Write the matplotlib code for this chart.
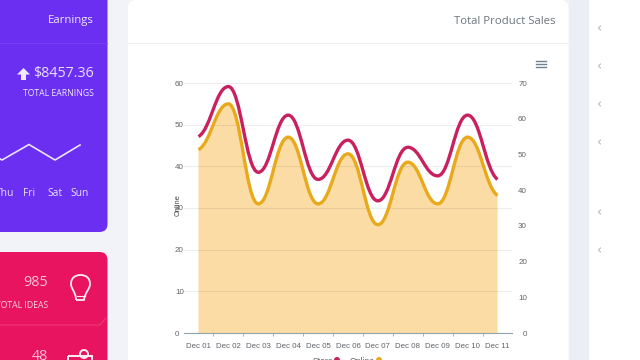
import matplotlib
matplotlib.use('Agg')
import matplotlib.pyplot as plt
from matplotlib.patches import FancyBboxPatch, PathPatch, Rectangle, Circle, Polygon
from matplotlib.path import Path

plt.rcParams['font.family'] = ['Liberation Sans', 'DejaVu Sans']

# данные графика
days = ['Dec 01', 'Dec 02', 'Dec 03', 'Dec 04', 'Dec 05', 'Dec 06',
        'Dec 07', 'Dec 08', 'Dec 09', 'Dec 10', 'Dec 11']
online = [44, 55, 31, 47, 31, 43, 26, 41, 31, 47, 33]
store = [55, 69, 45, 61, 43, 54, 37, 52, 44, 61, 43]
left_ticks = [0, 10, 20, 30, 40, 50, 60]
right_ticks = [0, 10, 20, 30, 40, 50, 60, 70]

# маленький график на фиолетовой карточке
week_days = ['Thu', 'Fri', 'Sat', 'Sun']
week_x = [-8, 2, 29, 55, 80]
week_y = [154, 160, 144.5, 160, 145]
week_label_x = [5, 29, 55, 80]

chevron_y = [28, 66, 104, 142, 212, 250]

PURPLE = '#6b2ff2'
RED = '#e8145f'
PINK = '#c9215f'
ORANGE = '#e9a91d'
FILL = '#fbdca5'
TEXT = '#5f6368'


def smooth_path(values, base=None):
    # кривая безье через значения, на экстремумах касательная горизонтальна
    n = len(values)
    slope = []
    for i in range(n):
        if i == 0:
            slope.append((values[1] - values[0]) * 0.35)
        elif i == n - 1:
            slope.append((values[-1] - values[-2]) * 0.35)
        elif (values[i] - values[i-1]) * (values[i+1] - values[i]) <= 0:
            slope.append(0)
        else:
            slope.append((values[i+1] - values[i-1]) * 0.5)
    verts = [(0, values[0])]
    codes = [Path.MOVETO]
    k = 0.42
    for i in range(n - 1):
        verts.append((i + k, values[i] + slope[i] * k))
        verts.append((i + 1 - k, values[i+1] - slope[i+1] * k))
        verts.append((i + 1, values[i+1]))
        codes += [Path.CURVE4, Path.CURVE4, Path.CURVE4]
    if base is not None:
        verts += [(n - 1, base), (0, base), (0, values[0])]
        codes += [Path.LINETO, Path.LINETO, Path.CLOSEPOLY]
    return Path(verts, codes)


fig = plt.figure(figsize=(6.4, 3.6), dpi=100, facecolor='#f1f3f8')

# фон страницы в пикселях
bg = fig.add_axes([0, 0, 1, 1], zorder=0)
bg.set_xlim(0, 640)
bg.set_ylim(360, 0)
bg.axis('off')


def card(x0, y0, x1, y1, color, r=8):
    bg.add_patch(FancyBboxPatch((x0 + r, y0 + r), x1 - x0 - 2 * r, y1 - y0 - 2 * r,
                                boxstyle='round,pad=%d,rounding_size=%d' % (r, r),
                                fc=color, ec='none'))


card(-20, -20, 107.5, 232, PURPLE)
card(-20, 252, 107.5, 400, RED)
card(128, 0, 568.5, 400, 'white')
bg.add_patch(Rectangle((589, 0), 51, 360, fc='white', ec='none'))
bg.add_patch(Rectangle((568.5, 0), 20.5, 360, fc='#eceef6', ec='none'))
bg.plot([128, 568], [43, 43], color='#f0f0f2', lw=0.8)
bg.plot([0, 107], [43, 43], color='#7a43f4', lw=0.6)

# фиолетовая карточка
bg.text(93.5, 21, 'Earnings', color='#f0e9ff', fontsize=8.2, family='Open Sans', ha='right', va='center')
bg.text(93.5, 73.5, '$8457.36', color='#e9e0ff', fontsize=10.3, family='Open Sans', ha='right', va='center')
bg.text(93.5, 93.5, 'TOTAL EARNINGS', color='#efe8ff', fontsize=6.2, family='Open Sans', ha='right', va='center')
bg.add_patch(Polygon([(23.5, 68), (17, 74.5), (21, 74.5), (21, 80), (26, 80), (26, 74.5), (30, 74.5)],
                     fc='#f0e9ff', ec='none'))
bg.plot(week_x, week_y, color='#ece4ff', lw=1.2)
for lx, d in zip(week_label_x, week_days):
    bg.text(lx, 194, d, color='#e9e0ff', fontsize=7.4, family='Open Sans', ha='center', va='center')

# красная карточка
bg.text(48, 283, '985', color='#fbc3d6', fontsize=10.3, family='Open Sans', ha='right', va='center')
bg.text(48, 305, 'TOTAL IDEAS', color='#fbd5e2', fontsize=6.2, family='Open Sans', ha='right', va='center')
bg.text(48, 356, '48', color='#fbc3d6', fontsize=10.3, family='Open Sans', ha='right', va='center')
bg.plot([0, 100, 106], [325, 325, 318], color='#f0437f', lw=0.6)
bulb = Path([(76, 300), (84, 300), (85, 292), (90, 289), (90, 284), (90, 278), (86, 275), (80.5, 275),
             (75, 275), (71, 278), (71, 284), (71, 289), (76, 292), (76, 300)],
            [Path.MOVETO, Path.LINETO, Path.CURVE4, Path.CURVE4, Path.CURVE4, Path.CURVE4, Path.CURVE4,
             Path.CURVE4, Path.CURVE4, Path.CURVE4, Path.CURVE4, Path.CURVE4, Path.CURVE4, Path.CURVE4])
bg.add_patch(PathPatch(bulb, fc='none', ec='#fdeef3', lw=1.3))
bg.plot([76.5, 84.5], [296, 296], color='#fdeef3', lw=0.8)
bg.add_patch(Circle((84, 354), 4, fc='none', ec='#fdeef3', lw=1.4))
bg.add_patch(Rectangle((68, 356), 24, 8, fc='none', ec='#fdeef3', lw=1.4))

# значок меню и стрелки справа
for y in [61, 64, 67]:
    bg.plot([536, 546], [y, y], color='#6e8192', lw=1)
for y in chevron_y:
    bg.plot([600.5, 598.5, 600.5], [y - 2, y, y + 2], color='#b9bcc2', lw=0.8)

# легенда обрезана снизу кадра
bg.text(333, 362, 'Store', color=TEXT, fontsize=6.2, ha='right', va='center')
bg.add_patch(Circle((337, 360), 3, fc=PINK, ec='none'))
bg.text(375, 362, 'Online', color=TEXT, fontsize=6.2, ha='right', va='center')
bg.add_patch(Circle((379, 360), 3, fc=ORANGE, ec='none'))
bg.text(178, 205, 'Online', color='#444444', fontsize=5.4, rotation=90, ha='center', va='center')

# основной график
ax = fig.add_axes([184 / 640, 1 - 333 / 360, 328 / 640, 250 / 360], zorder=2)
ax.patch.set_alpha(0)
ax.set_xlim(-0.485, 10.485)
ax.set_ylim(0, 60)
ax.add_patch(PathPatch(smooth_path(online, base=0), fc=FILL, ec='none', zorder=1))
ax.add_patch(PathPatch(smooth_path(online), fc='none', ec=ORANGE, lw=2.4, zorder=3, capstyle='butt'))

ax.set_yticks(left_ticks)
ax.grid(axis='y', color='black', alpha=0.07, lw=0.8)
ax.set_axisbelow(False)
ax.set_xticks(range(len(days)))
ax.set_xticklabels(days)
ax.set_xticks([i + 0.5 for i in range(len(days) - 1)], minor=True)
ax.tick_params(axis='x', which='major', length=0, pad=7.5, labelsize=5.7, labelcolor=TEXT)
ax.tick_params(axis='x', which='minor', length=2, width=0.6, color='#90a4ae')
ax.tick_params(axis='y', length=0, pad=6.5, labelsize=5.8, labelcolor=TEXT)
for t in ax.get_yticklabels():
    t.set_horizontalalignment('left')
for s in ['top', 'left', 'right']:
    ax.spines[s].set_visible(False)
ax.spines['bottom'].set_color('#90a4ae')
ax.spines['bottom'].set_linewidth(0.8)

ax2 = ax.twinx()
ax2.set_ylim(0, 70)
ax2.add_patch(PathPatch(smooth_path(store), fc='none', ec=PINK, lw=2.4, zorder=3, capstyle='butt'))
ax2.set_yticks(right_ticks)
ax2.tick_params(axis='y', length=0, pad=10.8, labelsize=5.8, labelcolor=TEXT)
for t in ax2.get_yticklabels():
    t.set_horizontalalignment('right')
for s in ax2.spines.values():
    s.set_visible(False)

# заголовок карточки
bg.text(555, 21, 'Total Product Sales', color='#6c757d', fontsize=8.2, family='Open Sans', ha='right', va='center')

fig.savefig('out.png', dpi=100, facecolor=fig.get_facecolor())
